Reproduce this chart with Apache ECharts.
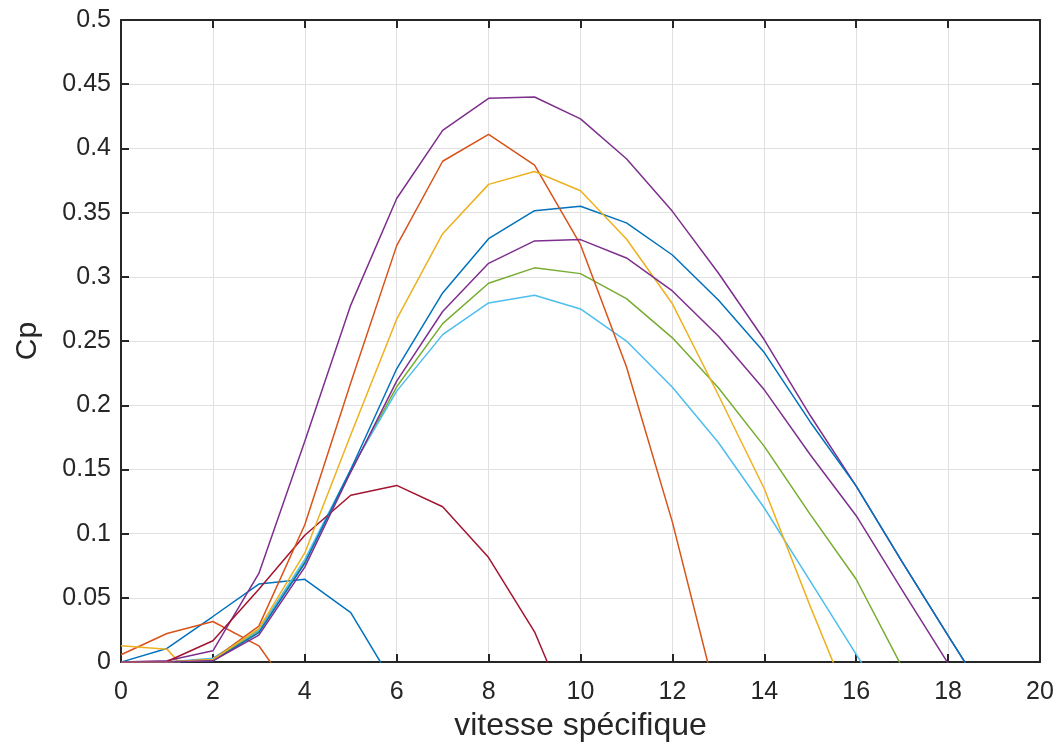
<!DOCTYPE html>
<html>
<head>
<meta charset="utf-8">
<script src="https://cdn.jsdelivr.net/npm/echarts@6/dist/echarts.min.js"></script>
<style>
  html, body { margin: 0; padding: 0; background: #fff; }
  #chart { width: 1062px; height: 747px; }
</style>
</head>
<body>
<div id="chart"></div>
<script>
// vitesse spécifique (lambda)
const lambda = [0, 1, 2, 3, 4, 5, 6, 7, 8, 9, 10, 11, 12, 13, 14, 15, 16, 17, 18, 19, 20]

// Cp curves (negative values get clipped by the axis, like the original)
const cpBlueSmall = [0, 0.0106, 0.0355, 0.0608, 0.0645, 0.0386, -0.021, null, null, null, null, null, null, null, null, null, null, null, null, null, null]
const cpOrangeSmall = [0.0057, 0.0223, 0.0316, 0.0127, -0.038, null, null, null, null, null, null, null, null, null, null, null, null, null, null, null, null]
const cpYellowSmall = [0.0127, 0.0101, -0.029, null, null, null, null, null, null, null, null, null, null, null, null, null, null, null, null, null, null]
const cpPurpleTop = [0, 0.001, 0.0088, 0.069, 0.172, 0.278, 0.361, 0.414, 0.439, 0.440, 0.423, 0.392, 0.351, 0.303, 0.251, 0.192, 0.137, 0.078, 0.0206, -0.036, null]
const cpGreen = [0, 0, 0.002, 0.024, 0.078, 0.149, 0.2144, 0.2636, 0.295, 0.307, 0.3025, 0.283, 0.2525, 0.2136, 0.168, 0.115, 0.0645, -0.004, -0.06, null, null]
const cpCyan = [0, 0, 0.003, 0.025, 0.080, 0.150, 0.211, 0.255, 0.2797, 0.2856, 0.275, 0.250, 0.214, 0.171, 0.120, 0.063, 0.006, -0.05, null, null, null]
const cpDarkRed = [0, 0.0005, 0.0166, 0.0568, 0.0988, 0.1299, 0.1376, 0.121, 0.0814, 0.0236, -0.061, null, null, null, null, null, null, null, null, null, null]
const cpBlueBig = [0, 0, 0.001, 0.023, 0.077, 0.150, 0.2284, 0.2875, 0.3297, 0.3515, 0.355, 0.342, 0.317, 0.282, 0.241, 0.187, 0.137, 0.078, 0.0206, -0.036, null]
const cpOrangeBig = [0, 0, 0.002, 0.028, 0.107, 0.2175, 0.3243, 0.390, 0.411, 0.387, 0.325, 0.230, 0.109, -0.033, null, null, null, null, null, null, null]
const cpYellowBig = [0, 0, 0.002, 0.026, 0.085, 0.177, 0.267, 0.3336, 0.372, 0.382, 0.367, 0.3295, 0.279, 0.208, 0.135, 0.0434, -0.044, null, null, null, null]
const cpPurpleLow = [0, 0, 0.001, 0.021, 0.074, 0.148, 0.2188, 0.273, 0.3105, 0.328, 0.329, 0.3147, 0.289, 0.254, 0.212, 0.1615, 0.114, 0.056, -0.001, -0.06, null]

const curves = [cpBlueSmall, cpOrangeSmall, cpYellowSmall, cpPurpleTop, cpGreen, cpCyan, cpDarkRed, cpBlueBig, cpOrangeBig, cpYellowBig, cpPurpleLow]
// matlab default color order
const colors = ['#0072BD', '#D95319', '#EDB120', '#7E2F8E', '#77AC30', '#4DBEEE', '#A2142F']

const axisColor = '#262626'
const font = 'Liberation Sans, Arial, Helvetica, sans-serif'

const chart = echarts.init(document.getElementById('chart'))

chart.setOption({
  animation: false,
  grid: { left: 121, right: 22, top: 20, bottom: 84 },
  xAxis: [
    {
      type: 'value',
      min: 0,
      max: 20,
      interval: 2,
      name: 'vitesse spécifique',
      nameLocation: 'middle',
      nameGap: 40,
      nameTextStyle: { fontSize: 32, color: axisColor, fontFamily: font },
      axisLine: { show: true, onZero: false, lineStyle: { color: axisColor, width: 2 } },
      axisTick: { show: true, inside: true, length: 8, lineStyle: { color: axisColor, width: 2 } },
      axisLabel: { fontSize: 25, color: axisColor, fontFamily: font, margin: 18 },
      splitLine: { show: true, lineStyle: { color: '#e0e0e0', width: 1 } }
    },
    {
      type: 'value',
      position: 'top',
      min: 0,
      max: 20,
      interval: 2,
      axisLine: { show: true, onZero: false, lineStyle: { color: axisColor, width: 2 } },
      axisTick: { show: true, inside: true, length: 8, lineStyle: { color: axisColor, width: 2 } },
      axisLabel: { show: false },
      splitLine: { show: false }
    }
  ],
  yAxis: [
    {
      type: 'value',
      min: 0,
      max: 0.5,
      interval: 0.05,
      name: 'Cp',
      nameLocation: 'middle',
      nameGap: 78,
      nameTextStyle: { fontSize: 30, color: axisColor, fontFamily: font },
      axisLine: { show: true, onZero: false, lineStyle: { color: axisColor, width: 2 } },
      axisTick: { show: true, inside: true, length: 8, lineStyle: { color: axisColor, width: 2 } },
      axisLabel: { fontSize: 25, color: axisColor, fontFamily: font, margin: 10 },
      splitLine: { show: true, lineStyle: { color: '#e0e0e0', width: 1 } }
    },
    {
      type: 'value',
      position: 'right',
      min: 0,
      max: 0.5,
      interval: 0.05,
      axisLine: { show: true, onZero: false, lineStyle: { color: axisColor, width: 2 } },
      axisTick: { show: true, inside: true, length: 8, lineStyle: { color: axisColor, width: 2 } },
      axisLabel: { show: false },
      splitLine: { show: false }
    }
  ],
  series: curves.map((cp, i) => ({
    type: 'line',
    xAxisIndex: 0,
    yAxisIndex: 0,
    data: lambda.map((x, j) => [x, cp[j]]),
    showSymbol: false,
    symbol: 'none',
    clip: true,
    connectNulls: false,
    lineStyle: { color: colors[i % colors.length], width: 1.5 },
    itemStyle: { color: colors[i % colors.length] }
  }))
})
</script>
</body>
</html>
